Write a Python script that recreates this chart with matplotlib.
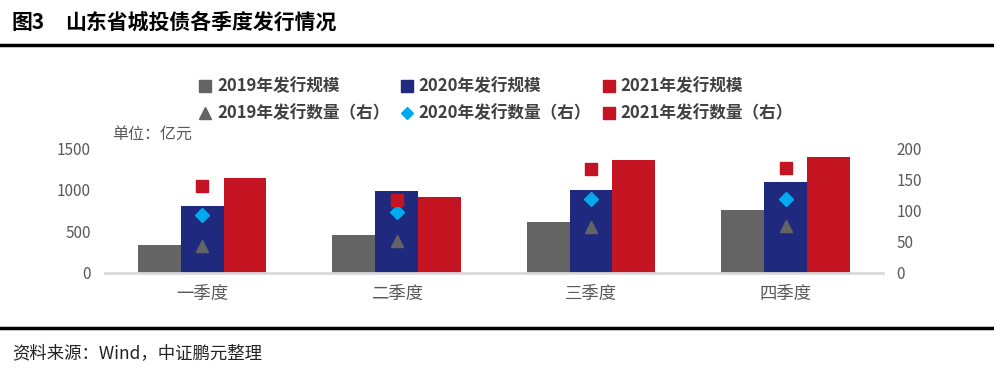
import numpy as np
import matplotlib
matplotlib.use('Agg')
import matplotlib.pyplot as plt
from matplotlib.lines import Line2D

plt.rcParams['font.family'] = ['Noto Sans CJK SC', 'DejaVu Sans']

quarters = ['一季度', '二季度', '三季度', '四季度']
scale_2019 = [330, 451, 608, 753]
scale_2020 = [802, 983, 995, 1092]
scale_2021 = [1140, 911, 1358, 1394]
count_2019 = [42, 51, 73, 75]
count_2020 = [93, 98, 118, 119]
count_2021 = [140, 117, 167, 168]

c_gray = '#646464'
c_navy = '#1f2a7f'
c_red = '#c41422'
c_cyan = '#00aaee'
c_tick = '#595959'

fig = plt.figure(figsize=(9.94, 3.73), dpi=100)
ax = fig.add_axes([0.1056, 0.2694, 0.7825, 0.3324])
ax2 = ax.twinx()

x = np.arange(len(quarters))
w = 0.22
ax.bar(x - w, scale_2019, w, color=c_gray)
ax.bar(x, scale_2020, w, color=c_navy)
ax.bar(x + w, scale_2021, w, color=c_red)

ax2.plot(x, count_2019, '^', color=c_gray, ms=9, ls='none')
ax2.plot(x, count_2020, 'D', color=c_cyan, ms=7, ls='none')
ax2.plot(x, count_2021, 's', color=c_red, ms=8, ls='none')

ax.set_xlim(-0.5, 3.5)
ax.set_ylim(0, 1500)
ax2.set_ylim(0, 200)
ax.set_yticks([0, 500, 1000, 1500])
ax2.set_yticks([0, 50, 100, 150, 200])
ax.set_xticks(x)
ax.set_xticklabels(quarters, fontsize=12.5, color=c_tick)
ax.tick_params(axis='x', length=0, pad=9)
ax.tick_params(axis='y', length=0, labelsize=11, labelcolor=c_tick, pad=10)
ax2.tick_params(axis='y', length=0, labelsize=11, labelcolor=c_tick, pad=10)

for a in (ax, ax2):
    for s in ['top', 'left', 'right']:
        a.spines[s].set_visible(False)
ax2.spines['bottom'].set_visible(False)
ax.spines['bottom'].set_color('#d9d9d9')
ax.spines['bottom'].set_linewidth(2)

# legend: column-wise filling, so pair bar + marker per column
handles = [
    Line2D([], [], marker='s', color=c_gray, ls='none', ms=8),
    Line2D([], [], marker='^', color=c_gray, ls='none', ms=8),
    Line2D([], [], marker='s', color=c_navy, ls='none', ms=8),
    Line2D([], [], marker='D', color=c_cyan, ls='none', ms=6),
    Line2D([], [], marker='s', color=c_red, ls='none', ms=8),
    Line2D([], [], marker='s', color=c_red, ls='none', ms=8),
]
labels = ['2019年发行规模', '2019年发行数量（右）',
          '2020年发行规模', '2020年发行数量（右）',
          '2021年发行规模', '2021年发行数量（右）']
fig.legend(handles, labels, ncol=3, loc='center', bbox_to_anchor=(0.499, 0.732),
           frameon=False, handlelength=0.7, handletextpad=0.35, columnspacing=0.7,
           labelspacing=0.55, prop={'weight': 'bold', 'size': 12}, labelcolor='#404040')

fig.text(0.113, 0.640, '单位：亿元', fontsize=11.5, color=c_tick, va='center')

fig.text(0.012, 0.94, '图3', fontsize=15, weight='bold', va='center')
fig.text(0.065, 0.94, '山东省城投债各季度发行情况', fontsize=15, weight='bold', va='center')
fig.add_artist(Line2D([0, 1], [0.879, 0.879], color='black', lw=2.5))
fig.add_artist(Line2D([0, 1], [0.1206, 0.1206], color='black', lw=2.5))
fig.text(0.012, 0.053, '资料来源：Wind，中证鹏元整理', fontsize=12.5, va='center', color='#222222')

fig.savefig('out.png', dpi=100)
